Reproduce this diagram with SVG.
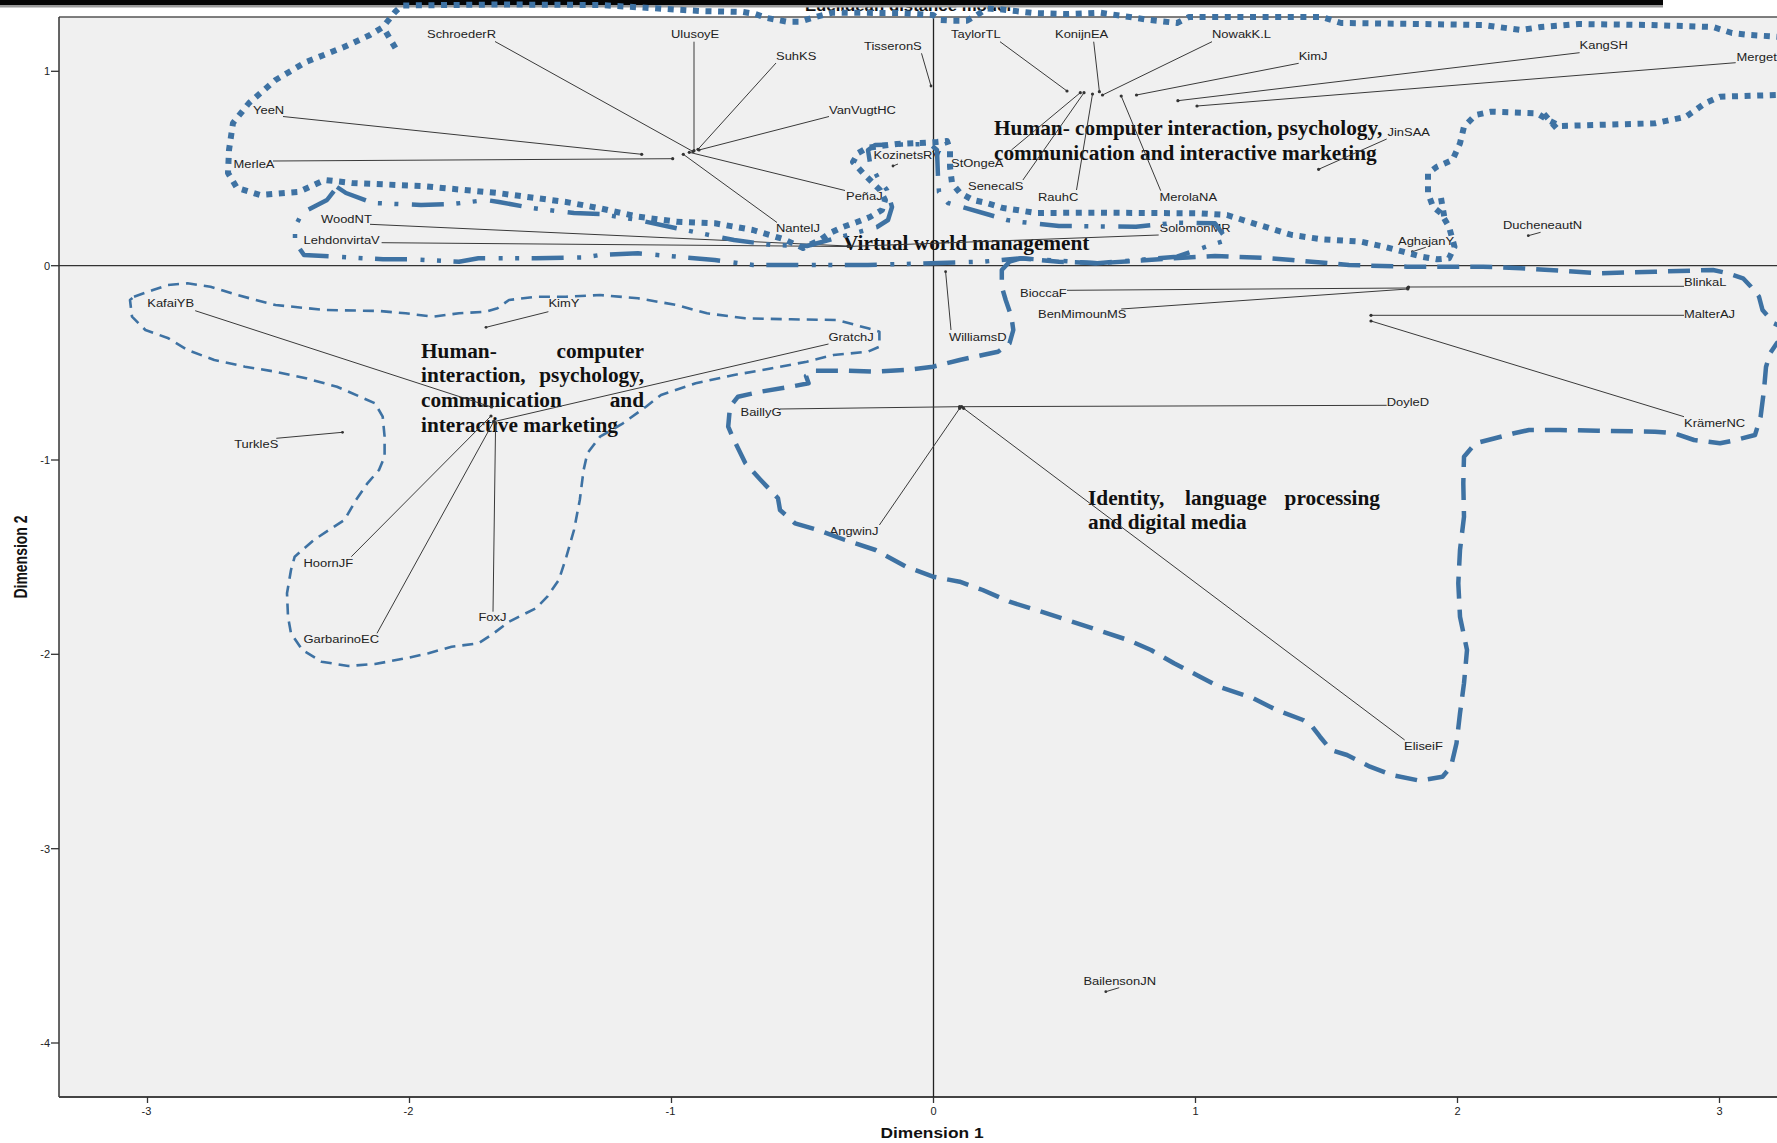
<svg xmlns="http://www.w3.org/2000/svg" width="1777" height="1143" viewBox="0 0 1777 1143">
  <defs>
    <style>
      .lb{font-family:"Liberation Sans",Arial,sans-serif;font-size:10.8px;fill:#222}
      .tk{font-family:"Liberation Sans",Arial,sans-serif;font-size:11px;fill:#222}
      .ax{font-family:"Liberation Sans",Arial,sans-serif;font-size:14px;font-weight:bold;fill:#111}
      .rt{font-family:"Liberation Serif","Times New Roman",serif;font-size:21.3px;font-weight:bold;fill:#111}
      .pt{fill:#333}
      .ld{stroke:#3a3a3a;stroke-width:1;fill:none}
      .ol{fill:none;stroke:#3e72a3;stroke-linejoin:round}
      .dot{stroke-width:6;stroke-dasharray:6 6.6}
      .dd{stroke-width:4.5;stroke-dasharray:32 12.5 4 12.5 4 13.5}
      .thin{stroke-width:2.6;stroke-dasharray:11 7}
      .thick{stroke-width:4.5;stroke-dasharray:22 11}
    </style>
  </defs>

  <!-- page -->
  <rect x="0" y="0" width="1777" height="1143" fill="#ffffff"/>
  <text class="ax" text-anchor="middle" font-size="16" transform="translate(908 11) scale(1.2 1)">Euclidean distance model</text>
  <rect x="0" y="0" width="1663" height="5" fill="#050505"/>
  <rect x="0" y="5" width="1663" height="2.5" fill="#9a9a9a"/>

  <!-- plot area and axes -->
  <g id="axes">
    <rect x="59" y="17" width="1718" height="1080" fill="#f0f0f0"/>
    <line x1="59" y1="17" x2="1777" y2="17" stroke="#555" stroke-width="1.3"/>
    <line x1="59" y1="17" x2="59" y2="1097" stroke="#333" stroke-width="1.5"/>
    <line x1="59" y1="1097" x2="1777" y2="1097" stroke="#444" stroke-width="2"/>
    <line x1="933.5" y1="17" x2="933.5" y2="1097" stroke="#222" stroke-width="1.3"/>
    <line x1="59" y1="265.7" x2="1777" y2="265.7" stroke="#333" stroke-width="1.3"/>
    <g stroke="#333" stroke-width="1.3">
      <line x1="51" y1="71.3" x2="59" y2="71.3"/>
      <line x1="51" y1="265.7" x2="59" y2="265.7"/>
      <line x1="51" y1="460" x2="59" y2="460"/>
      <line x1="51" y1="654.3" x2="59" y2="654.3"/>
      <line x1="51" y1="848.7" x2="59" y2="848.7"/>
      <line x1="51" y1="1043" x2="59" y2="1043"/>
      <line x1="147.5" y1="1097" x2="147.5" y2="1103"/>
      <line x1="409.5" y1="1097" x2="409.5" y2="1103"/>
      <line x1="671.5" y1="1097" x2="671.5" y2="1103"/>
      <line x1="933.5" y1="1097" x2="933.5" y2="1103"/>
      <line x1="1195.5" y1="1097" x2="1195.5" y2="1103"/>
      <line x1="1457.5" y1="1097" x2="1457.5" y2="1103"/>
      <line x1="1719.5" y1="1097" x2="1719.5" y2="1103"/>
    </g>
    <g class="tk" text-anchor="end">
      <text x="50" y="75.3">1</text>
      <text x="50" y="269.7">0</text>
      <text x="50" y="464">-1</text>
      <text x="50" y="658.3">-2</text>
      <text x="50" y="852.7">-3</text>
      <text x="50" y="1047">-4</text>
    </g>
    <g class="tk" text-anchor="middle">
      <text x="146.5" y="1115">-3</text>
      <text x="408.5" y="1115">-2</text>
      <text x="670.5" y="1115">-1</text>
      <text x="933.5" y="1115">0</text>
      <text x="1195.5" y="1115">1</text>
      <text x="1457.5" y="1115">2</text>
      <text x="1719.5" y="1115">3</text>
    </g>
    <text class="ax" text-anchor="middle" transform="translate(932 1138) scale(1.24 1)">Dimension 1</text>
    <text class="ax" text-anchor="middle" transform="translate(27 557) rotate(-90) scale(1 1.3)">Dimension 2</text>
  </g>

  <!-- cluster headings -->
  <g id="cluster-titles" class="rt">
    <text x="994" y="135">Human- computer interaction, psychology,</text>
    <text x="994" y="160">communication and interactive marketing</text>
    <text x="843" y="250">Virtual world management</text>
    <text x="421" y="358">Human-</text>
    <text x="644" y="358" text-anchor="end">computer</text>
    <text x="421" y="382">interaction,</text>
    <text x="644" y="382" text-anchor="end">psychology,</text>
    <text x="421" y="407">communication</text>
    <text x="644" y="407" text-anchor="end">and</text>
    <text x="421" y="432">interactive marketing</text>
    <text x="1088" y="505">Identity,</text>
    <text x="1185" y="505">language</text>
    <text x="1380" y="505" text-anchor="end">processing</text>
    <text x="1088" y="529">and digital media</text>
  </g>

  <!-- leader lines from each label to its point -->
  <g id="connectors" class="ld">
    <line x1="495" y1="41.5" x2="693" y2="151.5"/>
    <line x1="694" y1="41.7" x2="694" y2="150.7"/>
    <line x1="776" y1="63" x2="698" y2="149.3"/>
    <line x1="829" y1="116.5" x2="699" y2="150"/>
    <line x1="283" y1="116.5" x2="641.7" y2="154.3"/>
    <line x1="273" y1="161" x2="672.7" y2="158.7"/>
    <line x1="845" y1="190.5" x2="689.3" y2="152.3"/>
    <line x1="777" y1="222.5" x2="683.3" y2="154.3"/>
    <line x1="921.5" y1="53.3" x2="931" y2="86"/>
    <line x1="898" y1="164" x2="893" y2="166"/>
    <line x1="370" y1="224.3" x2="848" y2="246"/>
    <line x1="381.6" y1="242.7" x2="848" y2="246.5"/>
    <line x1="1158.7" y1="235" x2="848" y2="246.5"/>
    <line x1="1000" y1="41.7" x2="1067" y2="91"/>
    <line x1="1011.4" y1="150" x2="1080.3" y2="92.7"/>
    <line x1="1022.9" y1="180" x2="1084" y2="92.7"/>
    <line x1="1076.5" y1="190" x2="1092.5" y2="94"/>
    <line x1="1093.7" y1="41.7" x2="1099.4" y2="91.7"/>
    <line x1="1212" y1="41.7" x2="1102.5" y2="95"/>
    <line x1="1160.7" y1="190.7" x2="1121.2" y2="96"/>
    <line x1="1298.7" y1="63.3" x2="1136.5" y2="95"/>
    <line x1="1579.6" y1="52.7" x2="1177.9" y2="100.7"/>
    <line x1="1735.7" y1="62.7" x2="1197" y2="106"/>
    <line x1="1386.7" y1="139" x2="1318.6" y2="169.3"/>
    <line x1="1540.6" y1="232.3" x2="1528.3" y2="235.7"/>
    <line x1="1425.8" y1="247.3" x2="1412.4" y2="251.7"/>
    <line x1="1067" y1="290.3" x2="1407.8" y2="288"/>
    <line x1="1121.2" y1="309" x2="1407.8" y2="289"/>
    <line x1="1684" y1="286.3" x2="1407.8" y2="287"/>
    <line x1="1684" y1="315.3" x2="1371" y2="315.3"/>
    <line x1="1684" y1="416.7" x2="1371" y2="321"/>
    <line x1="1386.7" y1="405.3" x2="961.7" y2="406.7"/>
    <line x1="779.9" y1="409" x2="959.7" y2="406.7"/>
    <line x1="879.4" y1="525" x2="959.7" y2="408.3"/>
    <line x1="1404.7" y1="740" x2="963.6" y2="408.3"/>
    <line x1="951" y1="330" x2="945.6" y2="271.7"/>
    <line x1="828.5" y1="344" x2="493.7" y2="421.7"/>
    <line x1="1119.2" y1="987.7" x2="1105.8" y2="991.7"/>
    <line x1="195.2" y1="310.7" x2="491.5" y2="407"/>
    <line x1="548.4" y1="311.7" x2="486" y2="327.3"/>
    <line x1="276.3" y1="438.3" x2="342.5" y2="432.3"/>
    <line x1="351.3" y1="556.7" x2="491" y2="416"/>
    <line x1="377" y1="633.3" x2="494" y2="421"/>
    <line x1="493" y1="611.7" x2="495.6" y2="423.3"/>
  </g>

  <!-- authors: point and label -->
  <g id="n-schroeder"><circle class="pt" cx="693" cy="151.5" r="1.6"/><text class="lb" transform="translate(427 38) scale(1.2 1)">SchroederR</text></g>
  <g id="n-ulusoy"><circle class="pt" cx="694" cy="150.7" r="1.6"/><text class="lb" transform="translate(671 38) scale(1.2 1)">UlusoyE</text></g>
  <g id="n-suh"><circle class="pt" cx="698" cy="149.3" r="1.6"/><text class="lb" transform="translate(776 60) scale(1.2 1)">SuhKS</text></g>
  <g id="n-vanvugt"><circle class="pt" cx="699" cy="150" r="1.6"/><text class="lb" transform="translate(829 114) scale(1.2 1)">VanVugtHC</text></g>
  <g id="n-yee"><circle class="pt" cx="641.7" cy="154.3" r="1.6"/><text class="lb" transform="translate(253 114) scale(1.2 1)">YeeN</text></g>
  <g id="n-merle"><circle class="pt" cx="672.7" cy="158.7" r="1.6"/><text class="lb" transform="translate(233.5 167.5) scale(1.2 1)">MerleA</text></g>
  <g id="n-pena"><circle class="pt" cx="689.3" cy="152.3" r="1.6"/><text class="lb" transform="translate(846 200) scale(1.2 1)">PeñaJ</text></g>
  <g id="n-nantel"><circle class="pt" cx="683.3" cy="154.3" r="1.6"/><text class="lb" transform="translate(776 232) scale(1.2 1)">NantelJ</text></g>
  <g id="n-tisseron"><circle class="pt" cx="931" cy="86" r="1.4"/><text class="lb" transform="translate(864 49.5) scale(1.2 1)">TisseronS</text></g>
  <g id="n-kozinets"><circle class="pt" cx="893" cy="166" r="1.4"/><text class="lb" transform="translate(873.5 159.3) scale(1.2 1)">KozinetsRV</text></g>
  <g id="n-wood"><circle class="pt" cx="848" cy="246" r="1.4"/><text class="lb" transform="translate(321 222.5) scale(1.2 1)">WoodNT</text></g>
  <g id="n-lehdonvirta"><circle class="pt" cx="848" cy="246.5" r="1.4"/><text class="lb" transform="translate(303.5 243.5) scale(1.2 1)">LehdonvirtaV</text></g>
  <g id="n-solomon"><circle class="pt" cx="849" cy="246.5" r="1.4"/><text class="lb" transform="translate(1159.5 232.3) scale(1.2 1)">SolomonMR</text></g>
  <g id="n-taylor"><circle class="pt" cx="1067" cy="91" r="1.6"/><text class="lb" transform="translate(951 37.7) scale(1.2 1)">TaylorTL</text></g>
  <g id="n-stonge"><circle class="pt" cx="1080.3" cy="92.7" r="1.6"/><text class="lb" transform="translate(951 167.3) scale(1.2 1)">StOngeA</text></g>
  <g id="n-senecal"><circle class="pt" cx="1084" cy="92.7" r="1.6"/><text class="lb" transform="translate(968 190) scale(1.2 1)">SenecalS</text></g>
  <g id="n-rauh"><circle class="pt" cx="1092.5" cy="94" r="1.6"/><text class="lb" transform="translate(1038 200.7) scale(1.2 1)">RauhC</text></g>
  <g id="n-konijn"><circle class="pt" cx="1099.4" cy="91.7" r="1.6"/><text class="lb" transform="translate(1055 37.7) scale(1.2 1)">KonijnEA</text></g>
  <g id="n-nowak"><circle class="pt" cx="1102.5" cy="95" r="1.6"/><text class="lb" transform="translate(1212 37.7) scale(1.2 1)">NowakK.L</text></g>
  <g id="n-merola"><circle class="pt" cx="1121.2" cy="96" r="1.6"/><text class="lb" transform="translate(1159.5 200.7) scale(1.2 1)">MerolaNA</text></g>
  <g id="n-kimj"><circle class="pt" cx="1136.5" cy="95" r="1.6"/><text class="lb" transform="translate(1298.7 60.3) scale(1.2 1)">KimJ</text></g>
  <g id="n-kang"><circle class="pt" cx="1177.9" cy="100.7" r="1.6"/><text class="lb" transform="translate(1579.6 49.3) scale(1.2 1)">KangSH</text></g>
  <g id="n-merget"><circle class="pt" cx="1197" cy="106" r="1.6"/><text class="lb" transform="translate(1736.5 61) scale(1.2 1)">MergetD</text></g>
  <g id="n-jin"><circle class="pt" cx="1318.6" cy="169.3" r="1.6"/><text class="lb" transform="translate(1387.5 135.7) scale(1.2 1)">JinSAA</text></g>
  <g id="n-ducheneaut"><circle class="pt" cx="1528.3" cy="235.7" r="1.4"/><text class="lb" transform="translate(1503 229.3) scale(1.2 1)">DucheneautN</text></g>
  <g id="n-aghajan"><circle class="pt" cx="1412.4" cy="251.7" r="1.4"/><text class="lb" transform="translate(1398 245) scale(1.2 1)">AghajanY</text></g>
  <g id="n-biocca"><circle class="pt" cx="1407.8" cy="288" r="1.8"/><text class="lb" transform="translate(1020 296.7) scale(1.2 1)">BioccaF</text></g>
  <g id="n-benmimoun"><circle class="pt" cx="1407.8" cy="289" r="1.6"/><text class="lb" transform="translate(1038 318.3) scale(1.2 1)">BenMimounMS</text></g>
  <g id="n-blinka"><circle class="pt" cx="1408.5" cy="287" r="1.6"/><text class="lb" transform="translate(1684 286) scale(1.2 1)">BlinkaL</text></g>
  <g id="n-malter"><circle class="pt" cx="1371" cy="315.3" r="1.6"/><text class="lb" transform="translate(1684 318.3) scale(1.2 1)">MalterAJ</text></g>
  <g id="n-kramer"><circle class="pt" cx="1371" cy="321" r="1.6"/><text class="lb" transform="translate(1684 426.7) scale(1.2 1)">KrämerNC</text></g>
  <g id="n-doyle"><circle class="pt" cx="961.7" cy="406.7" r="1.6"/><text class="lb" transform="translate(1386.7 406) scale(1.2 1)">DoyleD</text></g>
  <g id="n-bailly"><circle class="pt" cx="959.7" cy="406.7" r="1.8"/><text class="lb" transform="translate(740.5 416) scale(1.2 1)">BaillyG</text></g>
  <g id="n-angwin"><circle class="pt" cx="959.7" cy="408.3" r="1.6"/><text class="lb" transform="translate(829.6 535) scale(1.2 1)">AngwinJ</text></g>
  <g id="n-elisei"><circle class="pt" cx="963.6" cy="408.3" r="1.6"/><text class="lb" transform="translate(1404 750) scale(1.2 1)">EliseiF</text></g>
  <g id="n-williams"><circle class="pt" cx="945.6" cy="271.7" r="1.4"/><text class="lb" transform="translate(949 341) scale(1.2 1)">WilliamsD</text></g>
  <g id="n-gratch"><circle class="pt" cx="493.7" cy="421.7" r="1.6"/><text class="lb" transform="translate(828.5 341) scale(1.2 1)">GratchJ</text></g>
  <g id="n-bailenson"><circle class="pt" cx="1105.8" cy="991.7" r="1.4"/><text class="lb" transform="translate(1083.4 985) scale(1.2 1)">BailensonJN</text></g>
  <g id="n-kafai"><circle class="pt" cx="491.5" cy="407" r="1.6"/><text class="lb" transform="translate(147.3 307.3) scale(1.2 1)">KafaiYB</text></g>
  <g id="n-kimy"><circle class="pt" cx="486" cy="327.3" r="1.4"/><text class="lb" transform="translate(548.4 307.3) scale(1.2 1)">KimY</text></g>
  <g id="n-turkle"><circle class="pt" cx="342.5" cy="432.3" r="1.4"/><text class="lb" transform="translate(234.2 448.3) scale(1.2 1)">TurkleS</text></g>
  <g id="n-hoorn"><circle class="pt" cx="491" cy="416" r="1.6"/><text class="lb" transform="translate(303.5 566.7) scale(1.2 1)">HoornJF</text></g>
  <g id="n-garbarino"><circle class="pt" cx="494" cy="421" r="1.6"/><text class="lb" transform="translate(303.5 643.3) scale(1.2 1)">GarbarinoEC</text></g>
  <g id="n-fox"><circle class="pt" cx="495.6" cy="423.3" r="1.6"/><text class="lb" transform="translate(478.4 620.7) scale(1.2 1)">FoxJ</text></g>

  <!-- hand-drawn cluster outlines -->
  <g id="cluster-outlines">
    <!-- dotted: human-computer interaction (upper) -->
    <path class="ol dot" d="M1795,38 L1777,36.7 L1750,35 L1732,33 L1713,27 L1650,25 L1579,24 L1541,27 L1521,30 L1483,25 L1420,24 L1341,23 L1322,17 L1254,17 L1189,17 L1177,23 L1150,20 L1100,12.7 L1067,14 L1033,13 L1000,9.3 L987,8.5 L977,15 L967,20.7 L953,20.7 L940,20 L933,15 L900,13 L833,12.7 L823,15 L812,18 L800,21.7 L787,21.7 L767,18 L755,14 L743,12 L700,11 L600,5 L500,4.5 L402,5.5 L395,12 L387,22 L383,27 L370,35 L344,47 L306,62 L275.5,80 L249,103 L233,123 L229,150 L228,173 L237,188 L260,195 L298.5,192 L325,180 L352,183 L421,186 L497.5,193 L566,202 L600,208.3 L638,216.7 L676.5,221.7 L715,223.3 L753,230 L784,239.3 L803,248 L820,240 L830,233 L843,227 L857,222 L870,217 L882,210 L885,200 L880,190 L872,182 L863,173 L853,162 L858,153 L867,148 L880,146 L897,144 L920,143 L937,142 L947,141 L950,150 L950,167 L952,183 L960,193 L973,200 L987,203 L1003,208 L1017,210 L1036,213 L1097,212.7 L1200,213.3 L1227,215 L1253.5,223.3 L1292,235 L1322,239.3 L1361,241.7 L1384,246.7 L1403,251.7 L1422,256.7 L1437,259.3 L1449,258.3 L1454.5,246.7 L1449,226.7 L1441,213.3 L1433,206.7 L1428,193.3 L1428,173.3 L1437,166.7 L1452.5,160 L1460,143.3 L1464,126.7 L1475.5,115 L1491,111.7 L1537,113.3 L1548,120 L1560,126 L1655,123.3 L1686,116.7 L1705,103.3 L1720,96.7 L1777,95 L1795,95"/>
    <path class="ol dot" d="M386,32 L396,49"/>
    <path class="ol dot" d="M1544,114 L1559,131"/>
    <path class="ol dot" d="M1441,198 L1445,221"/>

    <!-- dash-dot: virtual world management -->
    <path class="ol dd" d="M337,187 L346,193 L373,203 L421,205 L453,204 L486,200 L499,202 L532,208 L547,210 L574,213 L600,214 L638,220 L676.5,228.3 L734,240 L772,245 L807,246 L877,227 L888,220 L892,207 L887,190 L878,178 L870,163 L868,150 L875,145 L930,144 L937,150 L938,177 L939,192 L948,203 L990,215 L1007,220 L1021,222 L1059,226 L1136,226.7 L1177,222.7 L1215,223.3 L1227,240 L1211,245 L1177,256.7 L1097.5,263.3 L1021,258.3 L982.7,261.7 L868,265 L753,265 L714.8,260 L638,253.3 L600,255 L585.5,257.3 L535.8,258.3 L478.4,258.3 L459,261.7 L413,259.3 L383,259.3 L337,256.7 L304,255 L295,241.7 L295,227 L302,213 L327,200 Z"/>

    <!-- thin dashes: human-computer interaction (lower left) -->
    <path class="ol thin" d="M134,296.7 L153,290 L168,285 L187.5,283.3 L210.5,286.7 L237,295 L275.5,305 L325,310 L379,311 L405.7,313.3 L432.5,316.7 L459,313.3 L486,311.7 L497.5,308.3 L509,300 L536,296.7 L566,296.7 L600,295 L638,298.3 L676.5,305 L707,313.3 L745,318.3 L791,319.3 L837,320 L868,328.3 L879.4,331.7 L879.4,346.7 L868,351.7 L833.5,355 L806.7,361.7 L772,368.3 L734,375 L695.7,383.3 L661,395 L646,406.7 L623,423.3 L600,436.7 L587.4,453.3 L583.6,470 L579.8,500 L574,530 L566.4,556.7 L558.8,580 L547.3,596.7 L535.8,608.3 L509,621.7 L493.7,633.3 L478.4,643.3 L451.6,646.7 L428.6,653.3 L405.7,658.3 L375,664 L348.3,666 L321.5,661.7 L302.3,650 L291,633.3 L288,616.7 L287,593.3 L291,570 L294.7,556.7 L302.3,550 L313.8,540 L329,530 L344.4,520 L356,500 L367.4,483.3 L379,470 L384.6,456.7 L384.6,436.7 L382.7,416.7 L375,403.3 L360,396.7 L337,386.7 L306,378.3 L275.5,371.7 L245,366.7 L214.3,360 L187.5,350 L168.4,338.3 L145.4,330 L132,316.7 L130,300 Z"/>

    <!-- thick dashes: identity, language processing and digital media -->
    <path class="ol thick" d="M1009.5,261.7 L1021,258.3 L1059,261.7 L1097.5,263.3 L1174,258.3 L1215,256 L1265,258 L1292,260 L1349,265 L1407,266.7 L1483,266.7 L1521,268.3 L1560,270.7 L1598,273.3 L1655,271.7 L1713,270 L1728,273.3 L1743,278.3 L1751,286.7 L1759,296.7 L1762.5,310 L1774,323.3 L1795,333 L1777,343 L1770,353.3 L1766,367 L1764,390 L1760.6,416.7 L1755,435 L1736,440 L1720,443.3 L1694,440 L1674.5,433.3 L1655,431.7 L1598,430.7 L1560,430 L1529,430 L1514,433.3 L1495,438.3 L1475.5,443.3 L1464,456.7 L1463.3,483.3 L1464,516.7 L1460,550 L1458.3,583.3 L1460,616.7 L1467,650 L1464,683.3 L1460,713.3 L1456.5,743.3 L1451,766.7 L1442.5,776.7 L1420,780.7 L1392,775 L1370,766.7 L1347,755 L1331,750 L1320,736.7 L1311,725 L1303,720 L1276.5,710 L1253.5,698.3 L1219,686.7 L1200,676.7 L1174,663.3 L1151,650 L1128,640 L1097.5,630 L1067,620 L1036,610 L1009.5,601.7 L982.7,590 L959.7,581.7 L933,576.7 L906,566.7 L875.5,550 L845,540 L818,530 L795,523.3 L780,510 L778,498.3 L760.7,480 L745.4,463.3 L734,440 L728.2,426.7 L730,406.7 L738,396.7 L760.7,391.7 L791,386.7 L808.6,383.3 L806,376 L814.3,370.7 L845,370.7 L875.5,371.7 L906,370 L933,366.7 L959.7,360 L982.7,355 L998,351.7 L1009.5,343.3 L1013.3,330 L1011.4,316.7 L1005.7,300 L1001.8,286.7 L1001.8,270 Z"/>
  </g>
</svg>
